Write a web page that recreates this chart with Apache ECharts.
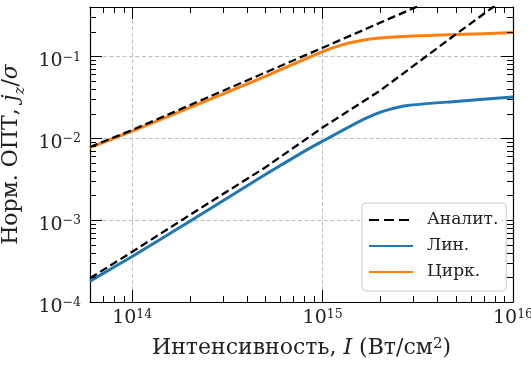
<!DOCTYPE html>
<html>
<head>
<meta charset="utf-8">
<script src="https://cdn.jsdelivr.net/npm/echarts@6/dist/echarts.min.js"></script>
<style>html,body{margin:0;padding:0;background:#fff}#main{width:531px;height:367px}</style>
</head>
<body>
<div id="main"></div>
<script>
// intensity I, W/cm^2  ->  normalised current j_z/sigma
var xAnalitCirc = [6e13, 1e14, 1e15, 5e15];
var yAnalitCirc = [0.0078, 0.0126, 0.127, 0.65];
var xAnalitLin = [6e13, 1e14, 2e14, 5e14, 1e15, 2e15, 5e15, 1e16];
var yAnalitLin = [1.95e-4, 4.1e-4, 1.15e-3, 4.4e-3, 0.0135, 0.038, 0.185, 0.6];
var xLin = [6e13, 1e14, 2e14, 5e14, 8e14, 1e15, 1.5e15, 1.85e15, 2.2e15, 2.8e15, 5e15, 1e16];
var yLin = [1.8e-4, 3.6e-4, 9.6e-4, 3.6e-3, 6.9e-3, 0.0092, 0.0153, 0.0193, 0.0222, 0.0251, 0.0281, 0.0318];
var xCirc = [6e13, 1e14, 2e14, 5e14, 1e15, 1.25e15, 1.5e15, 2e15, 3e15, 5e15, 1e16];
var yCirc = [0.0077, 0.0122, 0.0236, 0.057, 0.114, 0.137, 0.152, 0.167, 0.177, 0.184, 0.195];

var xMin = 6e13, xMax = 1e16, yMin = 1e-4, yMax = 0.4;
var font = 'DejaVu Serif';

function pairs(xs, ys) {
  return xs.map(function (x, i) { return [x, ys[i]]; });
}

// matplotlib-like log minor ticks 2..9 x 10^k
var xMinor = [], yMinor = [];
[13, 14, 15].forEach(function (e) {
  for (var k = 2; k < 10; k++) {
    var v = k * Math.pow(10, e);
    if (v >= xMin && v <= xMax) xMinor.push([v, yMin]);
  }
});
[-4, -3, -2, -1].forEach(function (e) {
  for (var k = 2; k < 10; k++) {
    var v = k * Math.pow(10, e);
    if (v >= yMin && v <= yMax * 1.0001) yMinor.push([xMin, v]);
  }
});

function powLabel(v) {
  var e = Math.log10(v), n = Math.round(e);
  if (Math.abs(e - n) > 1e-6) return '';
  return '{b|10}{sup|' + String(n).replace('-', '\u2212') + '}';
}
var tickRich = {
  b: {fontFamily: font, fontSize: 19, color: '#222', lineHeight: 20, verticalAlign: 'bottom'},
  sup: {fontFamily: font, fontSize: 12.5, color: '#222', lineHeight: 8, verticalAlign: 'top'}
};
var tickStyle = {inside: true, length: 12, lineStyle: {color: '#000', width: 1}};
var lineAx = {show: true, lineStyle: {color: '#000', width: 1.2}};
var gridLine = {show: true, lineStyle: {color: '#c0c0c0', width: 1, type: [4, 2.5]}};

function xMinorItem(params, api) {
  var cs = params.coordSys;
  var px = Math.round(api.coord([api.value(0), yMin])[0]) + 0.5;
  var st = {stroke: '#000', lineWidth: 1};
  return {type: 'group', children: [
    {type: 'line', shape: {x1: px, y1: cs.y + cs.height, x2: px, y2: cs.y + cs.height - 6}, style: st},
    {type: 'line', shape: {x1: px, y1: cs.y, x2: px, y2: cs.y + 6}, style: st}
  ]};
}
function yMinorItem(params, api) {
  var cs = params.coordSys;
  var py = Math.round(api.coord([xMin, api.value(1)])[1]) + 0.5;
  var st = {stroke: '#000', lineWidth: 1};
  return {type: 'group', children: [
    {type: 'line', shape: {x1: cs.x, y1: py, x2: cs.x + 6, y2: py}, style: st},
    {type: 'line', shape: {x1: cs.x + cs.width, y1: py, x2: cs.x + cs.width - 6, y2: py}, style: st}
  ]};
}

var myChart = echarts.init(document.getElementById('main'));
var option = {
  animation: false,
  grid: {left: 90, right: 18, top: 7, bottom: 65, containLabel: false, outerBoundsMode: 'none'},
  legend: {
    data: [
      {name: 'Аналит.', lineStyle: {type: [10, 5]}},
      {name: 'Лин.'},
      {name: 'Цирк.'}
    ],
    orient: 'vertical',
    left: 362, top: 203,
    itemWidth: 44, itemHeight: 12, itemGap: 8,
    padding: [8, 8, 10, 6],
    backgroundColor: 'rgba(255,255,255,0.85)',
    borderColor: '#cccccc', borderWidth: 1, borderRadius: 4,
    itemStyle: {color: 'rgba(0,0,0,0)', borderWidth: 0, opacity: 0},
    textStyle: {fontFamily: font, fontSize: 17, color: '#222', lineHeight: 18, padding: [0, 0, 0, 9]}
  },
  xAxis: [{
    type: 'log', min: xMin, max: xMax, position: 'bottom',
    name: 'Интенсивность, {it|I} (Вт/см{sup|2})',
    nameLocation: 'middle', nameGap: 35,
    nameTextStyle: {fontFamily: font, fontSize: 22, color: '#222',
      rich: {
        it: {fontFamily: font, fontSize: 22, fontStyle: 'italic', color: '#222'},
        sup: {fontFamily: font, fontSize: 15, color: '#222', verticalAlign: 'top', lineHeight: 12}
      }},
    axisLine: lineAx, axisTick: tickStyle,
    axisLabel: {formatter: powLabel, rich: tickRich, margin: 6, showMinLabel: false},
    splitLine: gridLine
  }, {
    type: 'log', min: xMin, max: xMax, position: 'top',
    axisLine: lineAx, axisTick: tickStyle,
    axisLabel: {show: false}, splitLine: {show: false}
  }],
  yAxis: [{
    type: 'log', min: yMin, max: yMax, position: 'left',
    name: 'Норм. ОПТ, {it|j}{sub|z}/{it|σ}',
    nameLocation: 'middle', nameGap: 56, nameRotate: 90,
    nameTextStyle: {fontFamily: font, fontSize: 22, color: '#222',
      rich: {
        it: {fontFamily: font, fontSize: 22, fontStyle: 'italic', color: '#222'},
        sub: {fontFamily: font, fontSize: 15, fontStyle: 'italic', color: '#222', verticalAlign: 'bottom', lineHeight: 12, padding: [0, 0, -5, 0]}
      }},
    axisLine: lineAx, axisTick: tickStyle,
    axisLabel: {formatter: powLabel, rich: tickRich, margin: 9, padding: [9, 0, 0, 0], showMaxLabel: false},
    splitLine: gridLine
  }, {
    type: 'log', min: yMin, max: yMax, position: 'right',
    axisLine: lineAx, axisTick: tickStyle,
    axisLabel: {show: false}, splitLine: {show: false}
  }],
  series: [
    {name: 'Лин.', type: 'line', data: pairs(xLin, yLin), symbol: 'none', smooth: 0.2,
      lineStyle: {color: '#1f77b4', width: 3}, itemStyle: {color: '#1f77b4'}},
    {name: 'Цирк.', type: 'line', data: pairs(xCirc, yCirc), symbol: 'none', smooth: 0.2,
      lineStyle: {color: '#ff7f0e', width: 3}, itemStyle: {color: '#ff7f0e'}},
    {name: 'Аналит.', type: 'line', data: pairs(xAnalitCirc, yAnalitCirc), symbol: 'none',
      lineStyle: {color: '#000', width: 2.3, type: [8, 4]}, itemStyle: {color: '#000'}},
    {name: 'Аналит.', type: 'line', data: pairs(xAnalitLin, yAnalitLin), symbol: 'none',
      lineStyle: {color: '#000', width: 2.3, type: [8, 4]}, itemStyle: {color: '#000'}},
    {type: 'custom', data: xMinor, renderItem: xMinorItem, silent: true, clip: false, z: 5},
    {type: 'custom', data: yMinor, renderItem: yMinorItem, silent: true, clip: false, z: 5}
  ]
};
myChart.setOption(option);
</script>
</body>
</html>
